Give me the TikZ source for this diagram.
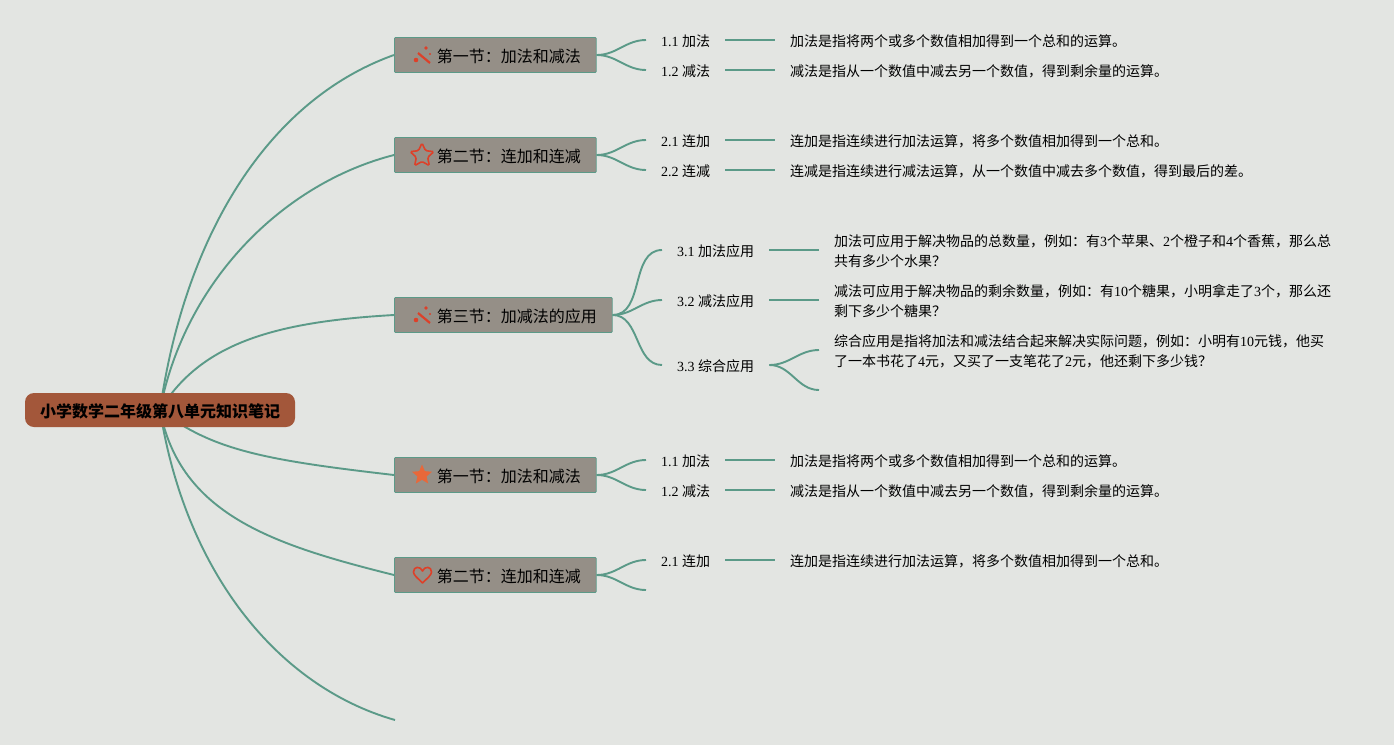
\documentclass[tikz,border=0pt]{standalone}
\usepackage{fontspec}
\setmainfont{Liberation Serif}
\newfontfamily\cjk{Noto Sans CJK SC}
\usetikzlibrary{shapes.geometric, backgrounds}
\definecolor{bgcol}{HTML}{E3E5E2}
\definecolor{linecol}{HTML}{5B9A88}
\definecolor{rootcol}{HTML}{A3573A}
\definecolor{seccol}{HTML}{958F87}
\definecolor{iconcol}{HTML}{DD4029}
\definecolor{starcol}{HTML}{E8683A}
\newcommand{\dg}[1]{{\rmfamily #1}}
\tikzset{
  rootbox/.style={fill=rootcol, rounded corners=9pt, minimum width=270pt, minimum height=34pt, inner sep=0pt, text height=16pt, text depth=2pt, font=\fontsize{16}{20}\selectfont\cjk\bfseries},
  secbox/.style={anchor=west, fill=seccol, draw=linecol, line width=0.8pt, rounded corners=1pt, minimum height=35pt, inner xsep=15.4pt, inner ysep=0pt, text height=16pt, text depth=2pt, font=\fontsize{16}{20}\selectfont\cjk},
  leaf/.style={anchor=west, inner xsep=15pt, inner ysep=0pt, text height=14pt, text depth=1.4pt, font=\fontsize{14}{20}\selectfont\cjk},
  desc/.style={anchor=west, inner xsep=15pt, inner ysep=0pt, align=left, font=\fontsize{14}{20}\selectfont\cjk},
  mainline/.style={draw=linecol, line width=1.9pt},
  branch/.style={draw=linecol, line width=1.9pt, out=0, in=180},
  wand/.pic={
    \draw[iconcol, line width=2.2pt] (-4,-3) -- (8,7);
    \fill[iconcol] (4,-8) circle (1.9) (8,-2) circle (1.1) (-6,4) circle (2.3);
  },
  heartpic/.pic={
    \draw[iconcol, line width=1.6pt, line join=round] (0,8) .. controls (-5,3) and (-9,0) .. (-9,-3) .. controls (-9,-9) and (-2,-9) .. (0,-4) .. controls (2,-9) and (9,-9) .. (9,-3) .. controls (9,0) and (5,3) .. (0,8) -- cycle;
  }
}
\begin{document}
\begin{tikzpicture}[x=1pt, y=-1pt]
  \useasboundingbox (0,0) rectangle (1394,745);
  % Centre
  \node[rootbox] (root) at (160,410) {小学数学二年级第八单元知识笔记};

  % Sections
  \node[secbox] (sec1) at (394,55) {\hspace*{27pt}第一节：加法和减法};
  \node[secbox] (sec2) at (394,155) {\hspace*{27pt}第二节：连加和连减};
  \node[secbox] (sec3) at (394,315) {\hspace*{27pt}第三节：加减法的应用};
  \node[secbox] (sec4) at (394,475) {\hspace*{27pt}第一节：加法和减法};
  \node[secbox] (sec5) at (394,575) {\hspace*{27pt}第二节：连加和连减};
  \coordinate (sec6) at (395,720);

  % Icons
  \pic at (422,56) {wand};
  \node[star, star points=5, star point ratio=2.1, draw=iconcol, line width=1.6pt, rounded corners=1.5pt, minimum size=25pt, inner sep=0pt] (icon2) at (422,155.5) {};
  \pic at (422,316) {wand};
  \node[star, star points=5, star point ratio=2.2, fill=starcol, minimum size=21pt, inner sep=0pt] (icon4) at (422,475) {};
  \pic at (422.5,575) {heartpic};

  % Section 1
  \node[leaf] (l11) at (646,40) {\dg{1.1 }加法};
  \node[leaf] (l12) at (646,70) {\dg{1.2 }减法};
  \node[desc] (d11) at (775,41) {加法是指将两个或多个数值相加得到一个总和的运算。};
  \node[desc] (d12) at (775,71) {减法是指从一个数值中减去另一个数值，得到剩余量的运算。};

  % Section 2
  \node[leaf] (l21) at (646,140) {\dg{2.1 }连加};
  \node[leaf] (l22) at (646,170) {\dg{2.2 }连减};
  \node[desc] (d21) at (775,141) {连加是指连续进行加法运算，将多个数值相加得到一个总和。};
  \node[desc] (d22) at (775,171) {连减是指连续进行减法运算，从一个数值中减去多个数值，得到最后的差。};

  % Section 3
  \node[leaf] (l31) at (662,250) {\dg{3.1 }加法应用};
  \node[leaf] (l32) at (662,300) {\dg{3.2 }减法应用};
  \node[leaf] (l33) at (662,365) {\dg{3.3 }综合应用};
  \node[desc] (d31) at (819,251) {加法可应用于解决物品的总数量，例如：有\dg{3}个苹果、\dg{2}个橙子和\dg{4}个香蕉，那么总\\共有多少个水果？};
  \node[desc] (d32) at (819,301) {减法可应用于解决物品的剩余数量，例如：有\dg{10}个糖果，小明拿走了\dg{3}个，那么还\\剩下多少个糖果？};
  \node[desc] (d33) at (819,351) {综合应用是指将加法和减法结合起来解决实际问题，例如：小明有\dg{10}元钱，他买\\了一本书花了\dg{4}元，又买了一支笔花了\dg{2}元，他还剩下多少钱？};
  \coordinate (d34) at (819,390);

  % Section 4
  \node[leaf] (l41) at (646,460) {\dg{1.1 }加法};
  \node[leaf] (l42) at (646,490) {\dg{1.2 }减法};
  \node[desc] (d41) at (775,461) {加法是指将两个或多个数值相加得到一个总和的运算。};
  \node[desc] (d42) at (775,491) {减法是指从一个数值中减去另一个数值，得到剩余量的运算。};

  % Section 5
  \node[leaf] (l51) at (646,560) {\dg{2.1 }连加};
  \coordinate (l52) at (646,590);
  \node[desc] (d51) at (775,561) {连加是指连续进行加法运算，将多个数值相加得到一个总和。};

  \begin{scope}[on background layer]
    \fill[bgcol] (0,0) rectangle (1394,745);
    % Main curves
    \draw[mainline] (root.center) .. controls +(25,-175) and +(-126,45) .. (sec1.west);
    \draw[mainline] (root.center) .. controls +(25,-130) and +(-110,28) .. (sec2.west);
    \draw[mainline] (root.center) .. controls +(40,-65) and +(-124,7) .. (sec3.west);
    \draw[mainline] (root.center) .. controls +(52,40) and +(-130,-15) .. (sec4.west);
    \draw[mainline] (root.center) .. controls +(20,105) and +(-120,-30) .. (sec5.west);
    \draw[mainline] (root.center) .. controls +(25,160) and +(-119,-34) .. (sec6);
    % Branches
    \foreach \a/\b in {sec1/l11, sec1/l12, sec2/l21, sec2/l22, sec3/l31, sec3/l32, sec3/l33, sec4/l41, sec4/l42, sec5/l51}
      \draw[branch] (\a.east) to (\b.west);
    \draw[branch] (sec5.east) to (l52);
    \draw[branch] (l33.east) to ([yshift=1pt]d33.west);
    \draw[branch] (l33.east) to (d34);
    % Straight links
    \foreach \a/\b in {l11/d11, l12/d12, l21/d21, l22/d22, l31/d31, l32/d32, l41/d41, l42/d42, l51/d51}
      \draw[mainline] (\a.east) -- ([yshift=1pt]\b.west);
  \end{scope}
\end{tikzpicture}
\end{document}
